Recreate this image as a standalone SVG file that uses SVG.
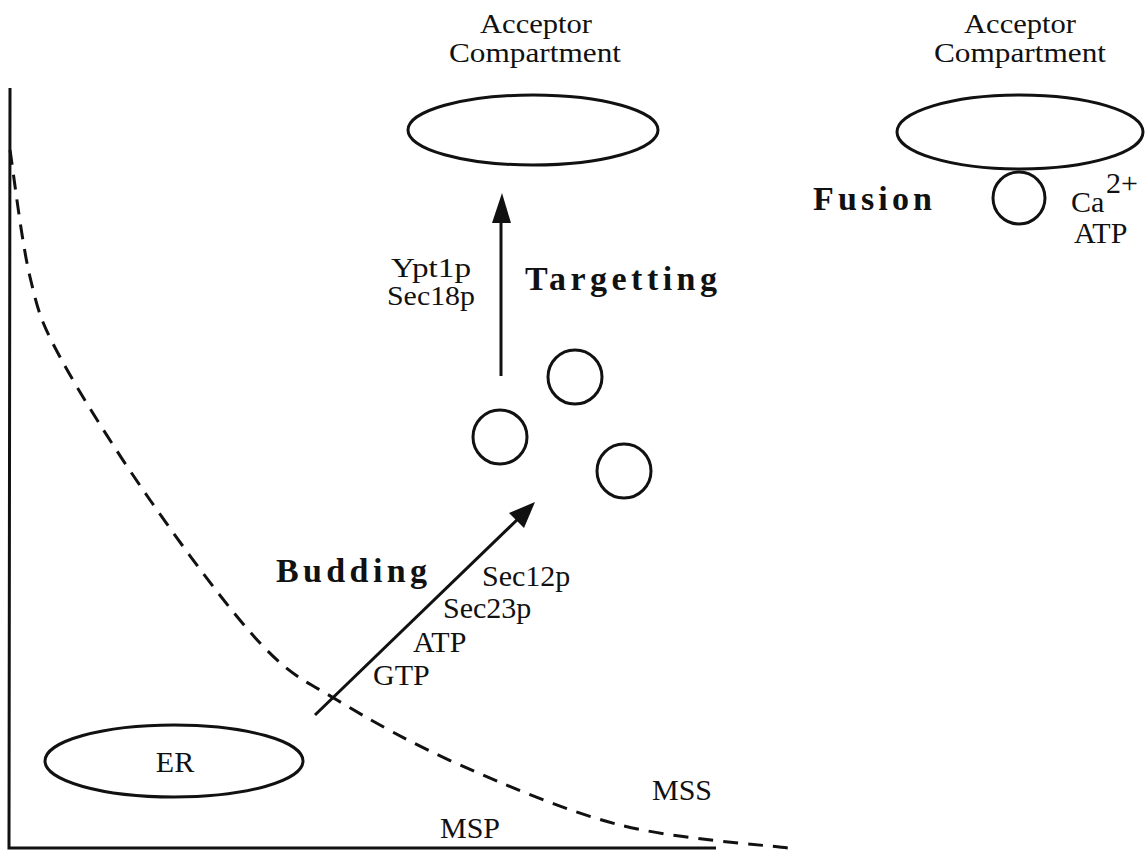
<svg xmlns="http://www.w3.org/2000/svg" width="1145" height="850" viewBox="0 0 1145 850">
<defs>
<style>
.t{font-family:"Liberation Serif","Times New Roman",serif;font-size:30px;fill:#111}
.h{font-family:"Liberation Serif","Times New Roman",serif;font-size:28px;fill:#111}
.b{font-family:"Liberation Serif","Times New Roman",serif;font-size:34px;font-weight:bold;fill:#111}
.s{fill:none;stroke:#111;stroke-width:3}
.w{fill:#fff;stroke:#111;stroke-width:3}
</style>
</defs>
<rect width="1145" height="850" fill="#fff"/>
<g id="axes">
<path class="s" d="M10,88 L9,848 L716,848"/>
</g>
<g id="connectors">
<path class="s" stroke-width="3.5" stroke-dasharray="15 10" d="M10,150 C13.3,171.2 21.7,242.5 30,277 C38.3,311.5 40,319.8 60,357 C80,394.2 116.7,452.3 150,500 C183.3,547.7 228.8,609.7 260,643 C291.2,676.3 303.7,679.7 337,700 C370.3,720.3 412.8,744.2 460,765 C507.2,785.8 565.8,811.2 620,825 C674.2,838.8 757.5,844.2 788,848"/>
<line class="s" x1="501" y1="376" x2="501" y2="215" stroke-width="3.5"/>
<polygon points="502,193 511,223 492,223" fill="#111"/>
<line class="s" x1="315" y1="715" x2="520" y2="517" stroke-width="3.5"/>
<polygon points="535,502 524,528 509,513" fill="#111"/>
</g>
<g id="er">
<ellipse class="w" cx="174" cy="761" rx="129" ry="36"/>
<text class="t" x="175" y="772" text-anchor="middle">ER</text>
</g>
<g id="acceptor1">
<text class="h" x="536" y="33" text-anchor="middle" textLength="112" lengthAdjust="spacingAndGlyphs">Acceptor</text>
<text class="h" x="535" y="62" text-anchor="middle" textLength="172" lengthAdjust="spacingAndGlyphs">Compartment</text>
<ellipse class="w" cx="533" cy="130" rx="125" ry="35"/>
</g>
<g id="acceptor2">
<text class="h" x="1020" y="33" text-anchor="middle" textLength="112" lengthAdjust="spacingAndGlyphs">Acceptor</text>
<text class="h" x="1020" y="62" text-anchor="middle" textLength="172" lengthAdjust="spacingAndGlyphs">Compartment</text>
<ellipse class="w" cx="1020" cy="132" rx="123" ry="37"/>
</g>
<g id="fusion">
<circle class="w" cx="1019" cy="198" r="26"/>
<text class="b" x="813" y="210" textLength="119" lengthAdjust="spacing">Fusion</text>
<text class="t" x="1071" y="212">Ca</text>
<text class="t" x="1106" y="193" font-size="24">2+</text>
<text class="t" x="1074" y="243">ATP</text>
</g>
<g id="vesicles">
<circle class="w" cx="575" cy="377" r="27"/>
<circle class="w" cx="500" cy="437" r="27"/>
<circle class="w" cx="624" cy="471" r="27"/>
</g>
<g id="targetting">
<text class="b" x="525" y="290" textLength="192" lengthAdjust="spacing">Targetting</text>
<text class="h" x="431" y="277" text-anchor="middle" textLength="80" lengthAdjust="spacingAndGlyphs">Ypt1p</text>
<text class="h" x="431" y="305" text-anchor="middle" textLength="88" lengthAdjust="spacingAndGlyphs">Sec18p</text>
</g>
<g id="budding">
<text class="b" x="276" y="582" textLength="151" lengthAdjust="spacing">Budding</text>
<text class="t" x="482" y="586">Sec12p</text>
<text class="t" x="443" y="618">Sec23p</text>
<text class="t" x="413" y="652">ATP</text>
<text class="t" x="373" y="685">GTP</text>
</g>
<g id="labels">
<text class="t" x="440" y="838">MSP</text>
<text class="t" x="652" y="800">MSS</text>
</g>
</svg>
